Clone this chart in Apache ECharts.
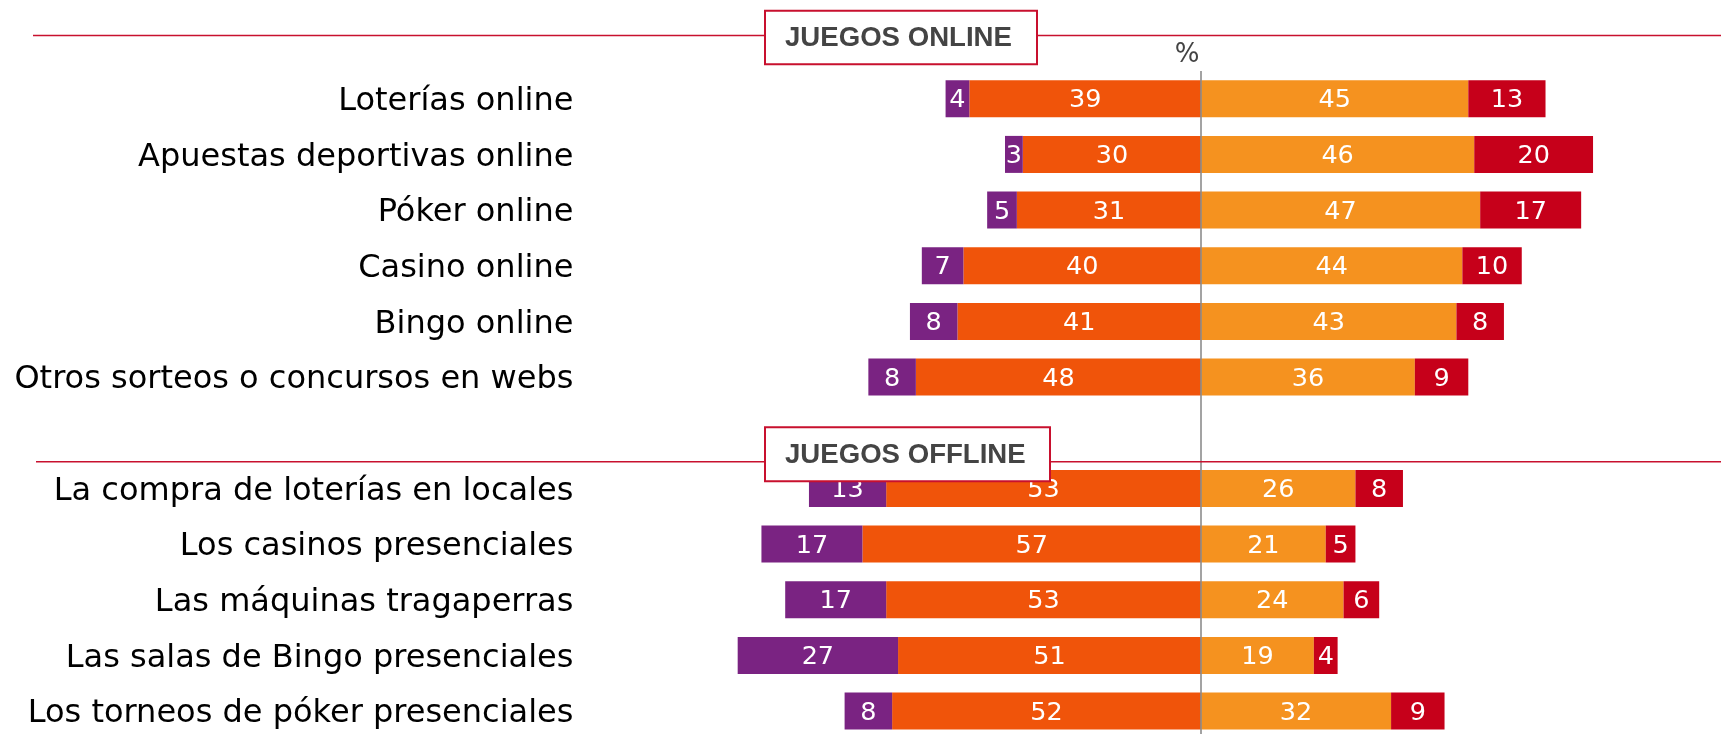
<!DOCTYPE html>
<html>
<head>
<meta charset="utf-8">
<script src="https://cdn.jsdelivr.net/npm/echarts@6/dist/echarts.min.js"></script>
<style>
  html, body { margin: 0; padding: 0; background: #ffffff; }
  #chart { width: 1721px; height: 734px; }
</style>
</head>
<body>
<div id="chart"></div>
<script>
// Rows top to bottom; the empty entry separates the online and offline blocks.
const categories = [
  'Loterías online',
  'Apuestas deportivas online',
  'Póker online',
  'Casino online',
  'Bingo online',
  'Otros sorteos o concursos en webs',
  '',
  'La compra de loterías en locales',
  'Los casinos presenciales',
  'Las máquinas tragaperras',
  'Las salas de Bingo presenciales',
  'Los torneos de póker presenciales'
];

// Left side (drawn towards negative x)
const muyBajo  = [4, 3, 5, 7, 8, 8, null, 13, 17, 17, 27, 8];
const bajo     = [39, 30, 31, 40, 41, 48, null, 53, 57, 53, 51, 52];
// Right side
const alto     = [45, 46, 47, 44, 43, 36, null, 26, 21, 24, 19, 32];
const muyAlto  = [13, 20, 17, 10, 8, 9, null, 8, 5, 6, 4, 9];

const sectionTitles = ['JUEGOS ONLINE', 'JUEGOS OFFLINE'];
const unitLabel = '%';

const COLORS = {
  muyBajo: '#7a2382',
  bajo: '#f0540a',
  alto: '#f5921f',
  muyAlto: '#c6001a',
  red: '#c8102e',
  text: '#444444',
  axis: '#8c8c8c'
};

const FONT = '"DejaVu Sans", Verdana, sans-serif';
const neg = arr => arr.map(v => (v == null ? null : -v));

const barLabel = {
  show: true,
  position: 'inside',
  offset: [0, 2],
  color: '#ffffff',
  fontFamily: FONT,
  fontSize: 25.5,
  formatter: p => (p.value == null ? '' : String(Math.abs(p.value)))
};

function barSeries(name, data, color, extra) {
  return Object.assign({
    name: name,
    type: 'bar',
    stack: 'total',
    data: data,
    barWidth: 37,
    itemStyle: { color: color },
    label: barLabel,
    emphasis: { disabled: true }
  }, extra || {});
}

const chart = echarts.init(document.getElementById('chart'), null, { renderer: 'canvas' });

function headerBox(title, lineX, lineY, boxX, boxY, boxW, boxH) {
  return [
    {
      type: 'line', z: 100,
      shape: { x1: lineX, y1: lineY, x2: 1721, y2: lineY },
      style: { stroke: COLORS.red, lineWidth: 1.6 }
    },
    {
      type: 'rect', z: 101,
      shape: { x: boxX, y: boxY, width: boxW, height: boxH },
      style: { fill: '#ffffff', stroke: COLORS.red, lineWidth: 2 }
    },
    {
      type: 'text', z: 102,
      x: boxX + 20, y: boxY + boxH / 2 + 1,
      style: {
        text: title,
        fill: COLORS.text,
        font: 'bold 27.6px "Liberation Sans", Arial, sans-serif',
        textVerticalAlign: 'middle',
        verticalAlign: 'middle'
      }
    }
  ];
}

chart.setOption({
  animation: false,
  backgroundColor: '#ffffff',
  grid: {
    left: 666.4, width: 1009.8, top: 70.9, height: 668,
    containLabel: false,
    outerBoundsMode: 'none'
  },
  xAxis: {
    type: 'value',
    min: -90,
    max: 80,
    show: false
  },
  yAxis: {
    type: 'category',
    data: categories,
    inverse: true,
    axisLine: { show: false },
    axisTick: { show: false },
    splitLine: { show: false },
    axisLabel: {
      margin: 93,
      formatter: v => (v ? '{c|' + v + '}' : ''),
      rich: {
        c: {
          padding: [6, 0, 0, 0],
          color: '#000000',
          fontFamily: FONT,
          fontSize: 32
        }
      }
    }
  },
  graphic: [
    ...headerBox(sectionTitles[0], 33, 35.5, 765, 10.7, 272, 53.6),
    ...headerBox(sectionTitles[1], 36, 461.7, 765, 427.3, 285, 54),
    {
      type: 'text', z: 50,
      x: 1187, y: 55,
      style: {
        text: unitLabel,
        fill: COLORS.text,
        font: '26px "DejaVu Sans", sans-serif',
        textAlign: 'center',
        textVerticalAlign: 'middle',
        align: 'center',
        verticalAlign: 'middle'
      }
    }
  ],
  series: [
    barSeries('Bajo', neg(bajo), COLORS.bajo),
    barSeries('Muy bajo', neg(muyBajo), COLORS.muyBajo),
    barSeries('Alto', alto, COLORS.alto),
    barSeries('Muy alto', muyAlto, COLORS.muyAlto, {
      markLine: {
        silent: true,
        symbol: 'none',
        z: 20,
        label: { show: false },
        lineStyle: { color: COLORS.axis, width: 1.6, type: 'solid' },
        data: [{ xAxis: 0 }]
      }
    })
  ]
});
</script>
</body>
</html>
